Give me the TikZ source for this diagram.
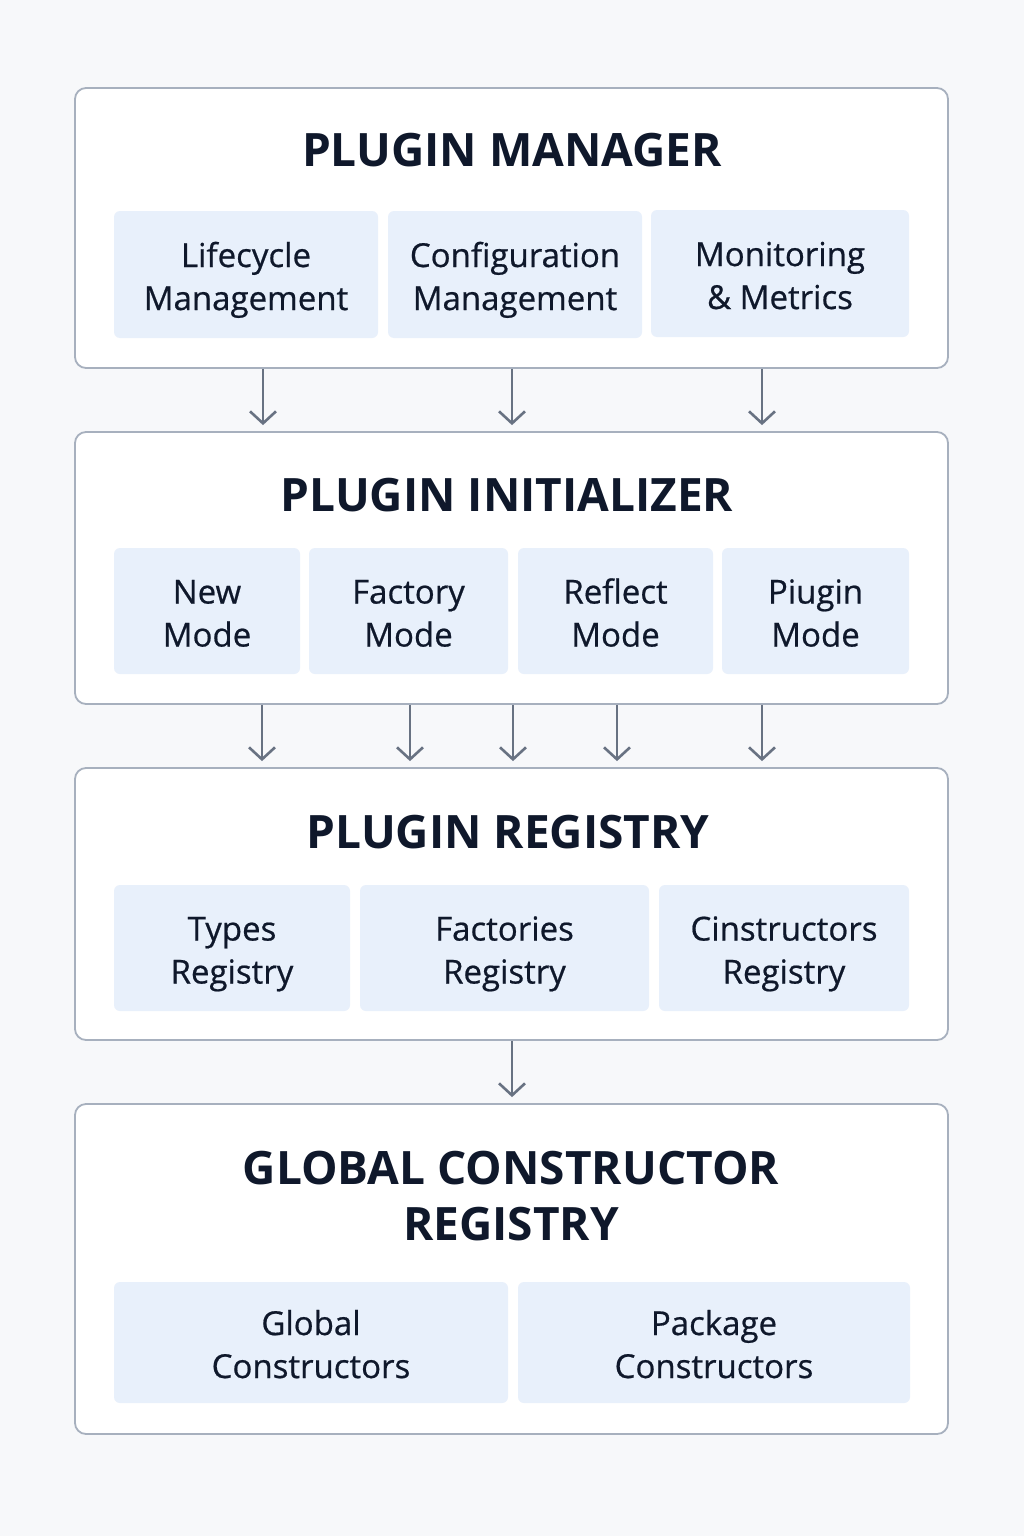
\documentclass[tikz,border=0pt]{standalone}
\usepackage{fontspec}
\setmainfont{Open Sans}
\newfontfamily\cellfont[FakeBold=0.6]{Open Sans}
\usetikzlibrary{arrows.meta}

\definecolor{pagebg}{HTML}{F7F8FA}
\definecolor{framegray}{HTML}{A7B0BE}
\definecolor{cellblue}{HTML}{E8F0FB}
\definecolor{inkblue}{HTML}{0F182B}
\definecolor{arrowgray}{HTML}{687282}

\begin{document}
\begin{tikzpicture}[x=1pt,y=-1pt]
        \tikzstyle{layer}=[draw=framegray,line width=1.8pt,fill=white,rounded corners=11pt,inner sep=0pt,minimum width=873pt]
        \tikzstyle{cell}=[fill=cellblue,rounded corners=6pt,align=center,inner sep=0pt,text=inkblue,font=\cellfont\fontsize{33}{43}\selectfont,minimum height=127pt,text height=75pt,text depth=4pt]
        \tikzstyle{heading}=[text=inkblue,font=\fontsize{46}{56}\selectfont\bfseries,align=center]
        \tikzstyle{flow}=[draw=arrowgray,line width=2.6pt,-{Straight Barb[length=12pt,width=26pt]},shorten >=6pt]
        \fill[pagebg] (0,0) rectangle (1024,1536);
        \useasboundingbox (0,0) rectangle (1024,1536);
        % plugin manager
        \node[layer,minimum height=280pt] (pm) at (511.5,228) {};
        \node[heading] (pmt) at (512,150) {PLUGIN MANAGER};
        \node[cell,minimum width=264pt] (lc) at (246,274.5) {Lifecycle\\Management};
        \node[cell,minimum width=254pt] (cm) at (515,274.5) {Configuration\\Management};
        \node[cell,minimum width=258pt] (mm) at (780,273.5) {Monitoring\\\& Metrics};
        % plugin initializer
        \node[layer,minimum height=272pt] (pi) at (511.5,568) {};
        \node[heading] (pit) at (507,495) {PLUGIN INITIALIZER};
        \node[cell,minimum width=186pt,minimum height=126pt] (nm) at (207,611) {New\\Mode};
        \node[cell,minimum width=199pt,minimum height=126pt] (fm) at (408.5,611) {Factory\\Mode};
        \node[cell,minimum width=195pt,minimum height=126pt] (rm) at (615.5,611) {Reflect\\Mode};
        \node[cell,minimum width=187pt,minimum height=126pt] (gm) at (815.5,611) {Piugin\\Mode};
        % plugin registry
        \node[layer,minimum height=272pt] (pr) at (511.5,904) {};
        \node[heading] (prt) at (508,832) {PLUGIN REGISTRY};
        \node[cell,minimum width=236pt,minimum height=126pt] (tr) at (232,948) {Types\\Registry};
        \node[cell,minimum width=289pt,minimum height=126pt] (fr) at (504.5,948) {Factories\\Registry};
        \node[cell,minimum width=250pt,minimum height=126pt] (cr) at (784,948) {Cinstructors\\Registry};
        % global constructor registry
        \node[layer,minimum height=330pt] (gr) at (511.5,1269) {};
        \node[heading] (grt) at (511,1196) {GLOBAL CONSTRUCTOR\\REGISTRY};
        \node[cell,minimum width=394pt,minimum height=121pt] (gc) at (311,1342.5) {Global\\Constructors};
        \node[cell,minimum width=392pt,minimum height=121pt] (pc) at (714,1342.5) {Package\\Constructors};
        % arrows between layers
        \foreach \x in {263,512,762}
                \draw[flow] (\x,0 |- pm.south) -- (\x,0 |- pi.north);
        \foreach \x in {262,410,513,617,762}
                \draw[flow] (\x,0 |- pi.south) -- (\x,0 |- pr.north);
        \draw[flow] (512,0 |- pr.south) -- (512,0 |- gr.north);
\end{tikzpicture}
\end{document}
